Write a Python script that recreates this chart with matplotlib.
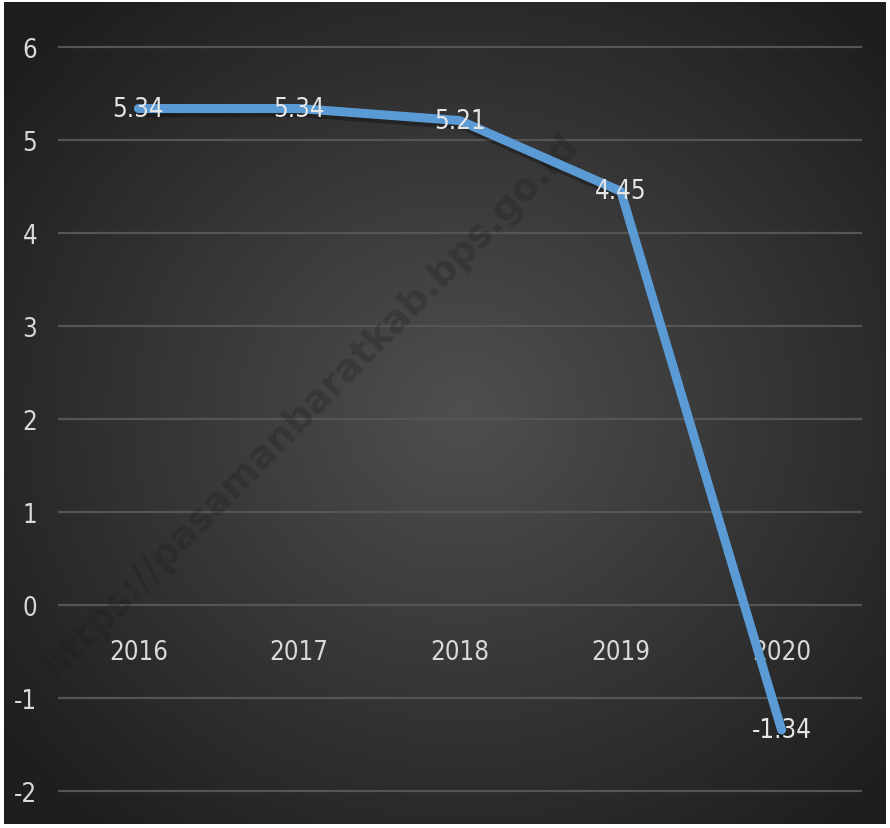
import numpy as np
import matplotlib.pyplot as plt
import matplotlib.patheffects as pe

years = ["2016", "2017", "2018", "2019", "2020"]
growth = [5.34, 5.34, 5.21, 4.45, -1.34]
labels = ["5.34", "5.34", "5.21", "4.45", "-1.34"]
yticks = [-2, -1, 0, 1, 2, 3, 4, 5, 6]

W, H = 890, 829
fig = plt.figure(figsize=(W / 100, H / 100), dpi=100, facecolor="white")
font = dict(family="DejaVu Sans", fontstretch="condensed")

# dark radial gradient background
bg = fig.add_axes([4 / W, 4 / H, 882 / W, 822 / H])
yy, xx = np.mgrid[0:1:400j, 0:1:430j]
r = np.sqrt(((xx - 0.52) / 0.75) ** 2 + ((yy - 0.5) / 0.75) ** 2)
shade = np.clip(0.31 - 0.22 * r, 0.12, 0.31)
bg.imshow(np.dstack([shade] * 3), extent=[0, 1, 0, 1], aspect="auto", origin="lower")
bg.axis("off")

ax = fig.add_axes([58 / W, 4 / H, 804 / W, 822 / H])
ax.patch.set_alpha(0)
x = np.arange(len(years))
ax.set_xlim(-0.5, len(years) - 0.5)
ax.set_ylim(-2.35, 6.485)

# watermark
ax.text(0.35, 0.51, "https://pasamanbaratkab.bps.go.id", transform=fig.transFigure,
        rotation=45.5, ha="center", va="center", fontsize=27, fontweight="bold",
        color="#1c1c1c", alpha=0.28, family="DejaVu Sans", zorder=1)

ax.grid(axis="y", color="#555555", linewidth=1.6)
ax.set_axisbelow(True)
ax.set_yticks(yticks)
ax.set_yticklabels([str(t) for t in yticks], fontsize=18.5, color="#d9d9d9", **font)
ax.set_xticks([])
ax.tick_params(axis="y", length=0, pad=15)
for s in ax.spines.values():
    s.set_visible(False)

ax.plot(x, growth, color="#5b9bd5", linewidth=6.5, solid_capstyle="round", zorder=3,
        path_effects=[pe.SimpleLineShadow(offset=(1, -3), shadow_color="black", alpha=0.3),
                      pe.Normal()])

for xi, v, lab in zip(x, growth, labels):
    ax.text(xi, v, lab, ha="center", va="center", fontsize=18.5, color="#e6e6e6",
            zorder=4, **font)

for xi, yr in zip(x, years):
    ax.text(xi, -0.5, yr, ha="center", va="center", fontsize=18.5, color="#d9d9d9",
            zorder=2, **font)

fig.savefig("out.png", dpi=100, facecolor="white")
